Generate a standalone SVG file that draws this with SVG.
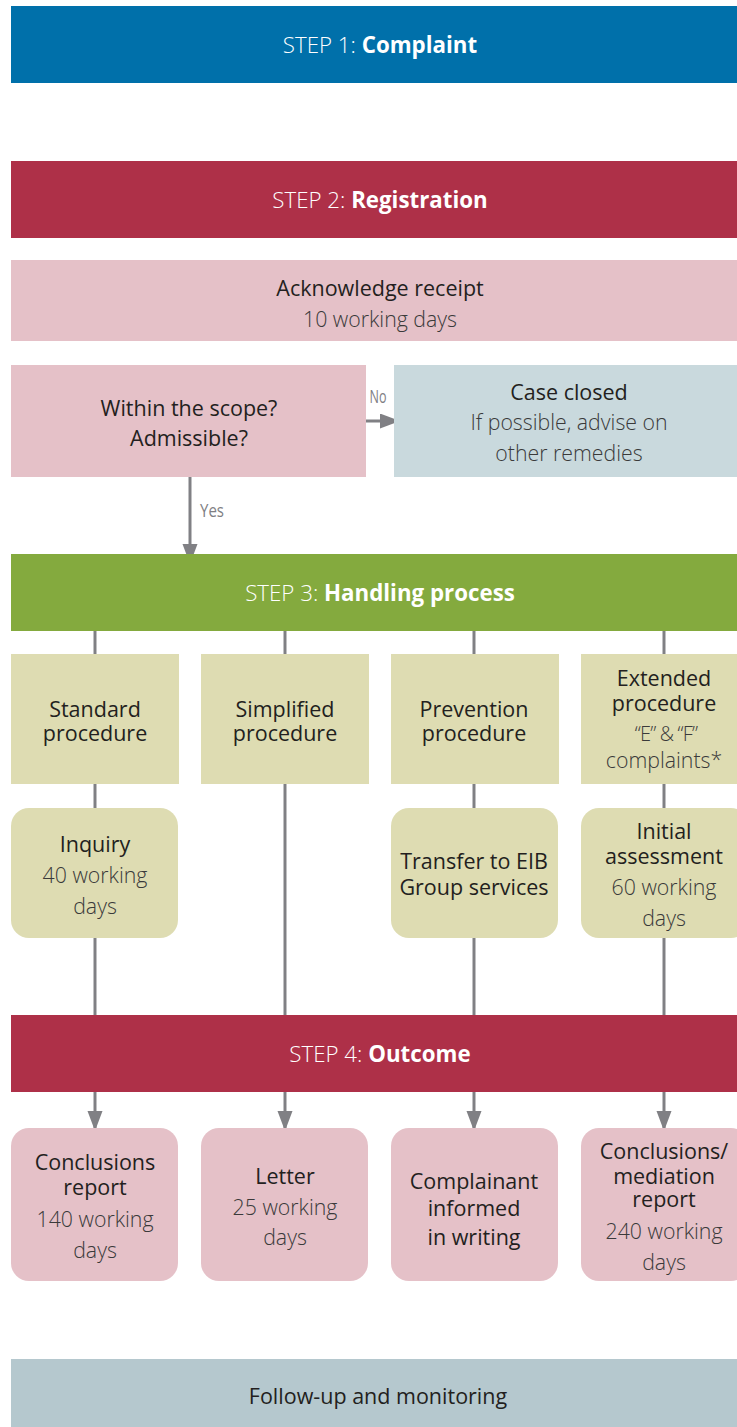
<svg xmlns="http://www.w3.org/2000/svg" width="737" height="1427" viewBox="0 0 737 1427">
<style>
text{font-family:"Open Sans","Noto Sans","Liberation Sans",sans-serif;text-anchor:middle}
.hd{font-size:22.3px;fill:#fff}
.hl{font-weight:300}
.hb{font-weight:700}
.t{font-size:21.5px;fill:#231f20}
.d{font-size:21.3px;fill:#3a3a3a;font-weight:300}
.s{font-size:20px;fill:#3a3a3a;font-weight:300}
.lab{font-size:19px;fill:#7f7f84}
.ln{stroke:#808084;stroke-width:3;fill:none}
.blue{fill:#0070aa}.red{fill:#ae3048}.pink{fill:#e5c1c8}.grey{fill:#c9d9dd}.green{fill:#84aa3e}.beige{fill:#dedcb2}.fol{fill:#b5c8ce}
</style>
<defs>
<marker id="ah" markerUnits="userSpaceOnUse" markerWidth="20" markerHeight="16" refX="20" refY="7.5" orient="auto">
<path d="M0,0 L20,7.5 L0,15 Z" fill="#808084"/>
</marker>
</defs>
<g id="connectors">
<line class="ln" x1="359" y1="421" x2="400" y2="421" marker-end="url(#ah)"/>
<line class="ln" x1="190" y1="477" x2="190" y2="564" marker-end="url(#ah)"/>
<line class="ln" x1="95" y1="631" x2="95" y2="654"/>
<line class="ln" x1="285" y1="631" x2="285" y2="654"/>
<line class="ln" x1="474" y1="631" x2="474" y2="654"/>
<line class="ln" x1="664" y1="631" x2="664" y2="654"/>
<line class="ln" x1="95" y1="784" x2="95" y2="1015"/>
<line class="ln" x1="285" y1="784" x2="285" y2="1015"/>
<line class="ln" x1="474" y1="784" x2="474" y2="1015"/>
<line class="ln" x1="664" y1="784" x2="664" y2="1015"/>
<line class="ln" x1="95" y1="1092" x2="95" y2="1131" marker-end="url(#ah)"/>
<line class="ln" x1="285" y1="1092" x2="285" y2="1131" marker-end="url(#ah)"/>
<line class="ln" x1="474" y1="1092" x2="474" y2="1131" marker-end="url(#ah)"/>
<line class="ln" x1="664" y1="1092" x2="664" y2="1131" marker-end="url(#ah)"/>
<text class="lab" x="378" y="403" textLength="17" lengthAdjust="spacingAndGlyphs">No</text>
<text class="lab" x="212" y="517" textLength="24" lengthAdjust="spacingAndGlyphs">Yes</text>
</g>
<g id="step1"><rect class="blue" x="11" y="6" width="726" height="77"/>
<text class="hd" x="380" y="53"><tspan class="hl">STEP 1: </tspan><tspan class="hb">Complaint</tspan></text></g>
<g id="step2"><rect class="red" x="11" y="161" width="726" height="77"/>
<text class="hd" x="380" y="208"><tspan class="hl">STEP 2: </tspan><tspan class="hb">Registration</tspan></text></g>
<g id="ack"><rect class="pink" x="11" y="260" width="726" height="81"/>
<text class="t" x="380" y="296">Acknowledge receipt</text>
<text class="d" x="380" y="327">10 working days</text></g>
<g id="scope"><rect class="pink" x="11" y="365" width="355" height="112"/>
<text class="t" x="189" y="416">Within the scope?</text>
<text class="t" x="189" y="446">Admissible?</text></g>
<g id="closed"><rect class="grey" x="394" y="365" width="343" height="112"/>
<text class="t" x="569" y="400">Case closed</text>
<text class="d" x="569" y="430">If possible, advise on</text>
<text class="d" x="569" y="461">other remedies</text></g>
<g id="step3"><rect class="green" x="11" y="554" width="726" height="77"/>
<text class="hd" x="380" y="601"><tspan class="hl">STEP 3: </tspan><tspan class="hb">Handling process</tspan></text></g>
<g id="standard"><rect class="beige" x="11" y="654" width="168" height="130"/>
<text class="t" x="95" y="717">Standard</text>
<text class="t" x="95" y="741">procedure</text></g>
<g id="simplified"><rect class="beige" x="201" y="654" width="168" height="130"/>
<text class="t" x="285" y="717">Simplified</text>
<text class="t" x="285" y="741">procedure</text></g>
<g id="prevention"><rect class="beige" x="391" y="654" width="168" height="130"/>
<text class="t" x="474" y="717">Prevention</text>
<text class="t" x="474" y="741">procedure</text></g>
<g id="extended"><rect class="beige" x="581" y="654" width="168" height="130"/>
<text class="t" x="664" y="686">Extended</text>
<text class="t" x="664" y="711">procedure</text>
<text class="s" x="666" y="741" letter-spacing="-0.8">“E” &amp; “F”</text>
<text class="d" x="664" y="768">complaints*</text></g>
<g id="inquiry"><rect class="beige" x="11" y="808" width="167" height="130" rx="18"/>
<text class="t" x="95" y="852">Inquiry</text>
<text class="d" x="95" y="883">40 working</text>
<text class="d" x="95" y="914">days</text></g>
<g id="transfer"><rect class="beige" x="391" y="808" width="167" height="130" rx="18"/>
<text class="t" x="474" y="869">Transfer to EIB</text>
<text class="t" x="474" y="895">Group services</text></g>
<g id="initial"><rect class="beige" x="581" y="808" width="168" height="130" rx="18"/>
<text class="t" x="664" y="839">Initial</text>
<text class="t" x="664" y="864">assessment</text>
<text class="d" x="664" y="895">60 working</text>
<text class="d" x="664" y="926">days</text></g>
<g id="step4"><rect class="red" x="11" y="1015" width="726" height="77"/>
<text class="hd" x="380" y="1062"><tspan class="hl">STEP 4: </tspan><tspan class="hb">Outcome</tspan></text></g>
<g id="conclusions"><rect class="pink" x="11" y="1128" width="167" height="153" rx="18"/>
<text class="t" x="95" y="1170">Conclusions</text>
<text class="t" x="95" y="1195">report</text>
<text class="d" x="95" y="1227">140 working</text>
<text class="d" x="95" y="1258">days</text></g>
<g id="letter"><rect class="pink" x="201" y="1128" width="167" height="153" rx="18"/>
<text class="t" x="285" y="1184">Letter</text>
<text class="d" x="285" y="1215">25 working</text>
<text class="d" x="285" y="1245">days</text></g>
<g id="informed"><rect class="pink" x="391" y="1128" width="167" height="153" rx="18"/>
<text class="t" x="474" y="1189">Complainant</text>
<text class="t" x="474" y="1216">informed</text>
<text class="t" x="474" y="1245">in writing</text></g>
<g id="mediation"><rect class="pink" x="581" y="1128" width="168" height="153" rx="18"/>
<text class="t" x="664" y="1159">Conclusions/</text>
<text class="t" x="664" y="1184">mediation</text>
<text class="t" x="664" y="1207">report</text>
<text class="d" x="664" y="1239">240 working</text>
<text class="d" x="664" y="1270">days</text></g>
<g id="followup"><rect class="fol" x="11" y="1359" width="726" height="68"/>
<text class="t" x="378" y="1404">Follow-up and monitoring</text></g>
</svg>
